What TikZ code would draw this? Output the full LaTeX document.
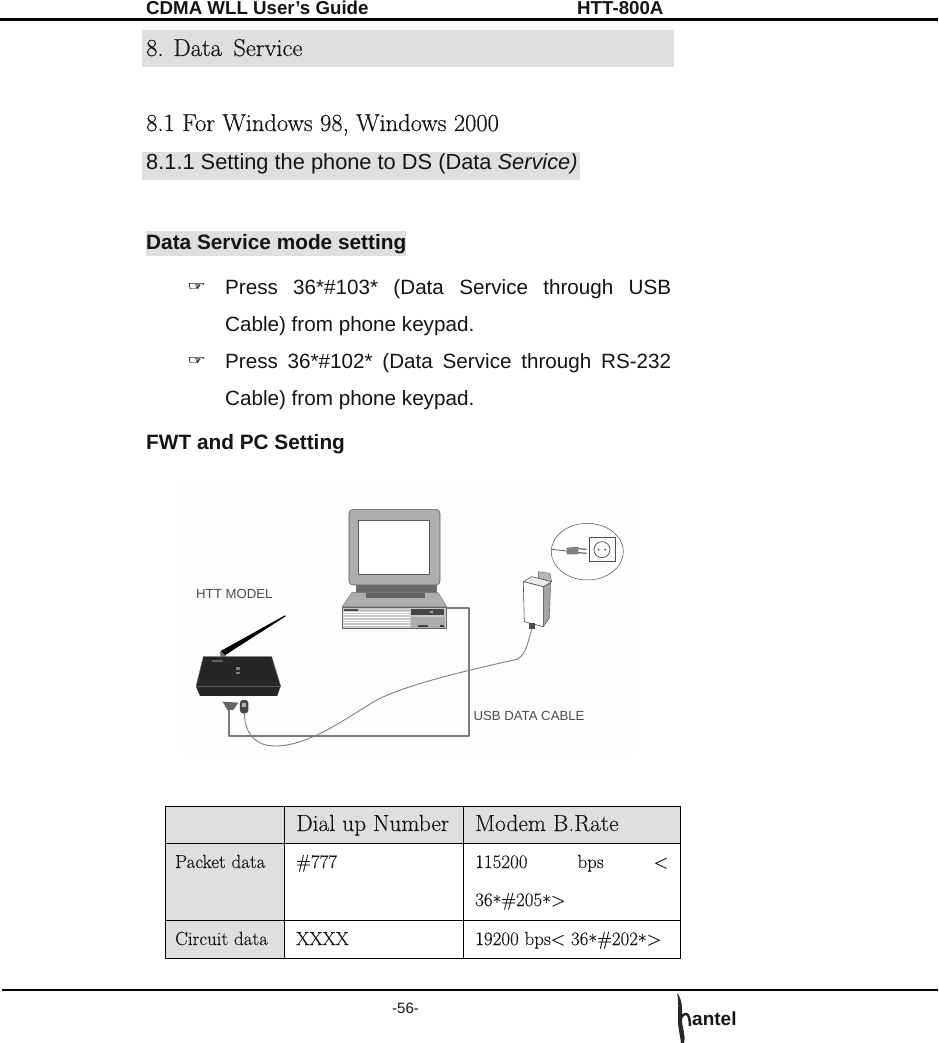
\documentclass[tikz,border=0pt]{standalone}
\usepackage{graphicx}
\usepackage{fontspec}
\newfontfamily\arialfont{Liberation Sans}
\newfontfamily\handfont[RawFeature={embolden=0.4}]{DejaVu Sans}
\newfontfamily\batang[RawFeature={embolden=0.45}]{Latin Modern Roman}
\newfontfamily\batanglt[RawFeature={embolden=0.15}]{Latin Modern Roman}
\definecolor{bandgray}{HTML}{DFDFDF}
\definecolor{casegray}{HTML}{AEAEAE}
\definecolor{cablegray}{HTML}{7A7A7A}
\newcommand{\fs}[1]{\fontsize{#1}{#1}\selectfont}
\newcommand{\handmark}{\scalebox{1.25}[0.72]{☞}}
\newcommand{\lowstar}{\raisebox{-3pt}{*}}
\tikzset{
	txt/.style={inner sep=0pt, anchor=base west, text=black!92},
	head/.style={txt, font=\arialfont\bfseries\fs{18.7}},
	body/.style={txt, font=\arialfont\fs{20.65}},
	bodyb/.style={txt, font=\arialfont\bfseries\fs{20.8}},
	title/.style={txt, font=\batang\fs{24.5}},
	cell/.style={txt, font=\batanglt\fs{19}},
	cellh/.style={txt, font=\batanglt\fs{23.4}},
	band/.style={fill=bandgray, draw=none},
	rule/.style={line width=1pt, black},
	photo/.style={text=black!70, inner sep=0pt, anchor=base west, font=\arialfont\fs{13.2}}
}
\begin{document}
\begin{tikzpicture}[x=1pt,y=-1pt, line join=round, line cap=butt]
	\useasboundingbox (0,0) rectangle (938,1043);
	\fill[white] (0,0) rectangle (938,1043);
	\draw[line width=3pt] (0,19.5)--(938,19.5);
	\draw[line width=2.5pt] (2,990)--(938,990);
	\node[head] (guide) at (146,15) {CDMA WLL User’s Guide};
	\node[head] (model) at (577,15) {HTT-800A};
	\node[txt, font=\arialfont\fs{15}] (page) at (392,1013) {-56-};
	% headings
	\fill[band] (142,30) rectangle (674,67);
	\fill[band] (142,152) rectangle (580,180);
	\fill[band] (146,231) rectangle (406,256);
	\node[title] (sec) at (146,56) {8. Data\, Service};
	\node[title] (sub) at (146,131) {8.1 For Windows 98, Windows 2000};
	\node[txt, font=\arialfont\fs{21.8}] (subsub) at (146,170) {8.1.1 Setting the phone to DS (Data \textit{Service)}};
	\node[bodyb] (mode) at (146,249) {Data Service mode setting};
	\node[txt, font=\handfont\fs{17}] (hand1) at (187,290) {\handmark};
	\node[body] (p1) at (225,294) {\makebox[446pt][s]{Press 36*\#103* (Data Service through USB}};
	\node[body] (p1b) at (225,331) {Cable) from phone keypad.};
	\node[txt, font=\handfont\fs{17}] (hand2) at (187,364) {\handmark};
	\node[body] (p2) at (225,368) {\makebox[446pt][s]{Press 36*\#102* (Data Service through RS-232}};
	\node[body] (p2b) at (225,405) {Cable) from phone keypad.};
	\node[bodyb] (fwt) at (146,449) {FWT and PC Setting};
	% photo, in units of a third of a pixel
	\begin{scope}[shift={(170,470)}, x=0.3333pt, y=-0.3333pt]
		\fill[black!0.7] (40,30) rectangle (1390,860);
		\path
			(830,413) coordinate (pcport)
			(897,413) coordinate (ca)
			(897,797) coordinate (cb)
			(178,797) coordinate (cc)
			(178,718) coordinate (dataplug)
			(223,730) coordinate (dcplug)
			(1085,478) coordinate (adapter)
			(1252,245) coordinate (lens)
			(1296,239) coordinate (socket)
			;
		\draw[cablegray, line width=2pt] (pcport)--(ca)--(cb)--(cc)--(dataplug);
		\draw[black!50, line width=0.9pt] (dcplug) .. controls (225,790) and (255,830) .. (320,828)
			.. controls (420,825) and (520,750) .. (620,690)
			.. controls (720,640) and (900,600) .. (1040,568)
			.. controls (1070,555) and (1075,510) .. (adapter);
		% monitor
		\fill[casegray, draw=black!65, rounded corners=4pt, line width=0.6pt] (537,118) rectangle (810,345);
		\fill[white, draw=black!65, line width=0.6pt] (565,150) rectangle (778,312);
		\fill[black!58] (557,345) rectangle (800,368);
		\fill[casegray, draw=black!55, line width=0.4pt] (545,368)--(805,368)--(830,410)--(517,410)--cycle;
		\fill[black!62] (587,368) rectangle (765,384);
		% computer case
		\fill[black!22, draw=black!60, line width=0.5pt] (517,411) rectangle (830,475);
		\foreach \y in {426,434,442,450,458,466}
			\draw[white, line width=0.8pt] (520,\y)--(720,\y);
		\fill[black!70] (523,416) rectangle (565,422);
		\fill[black!72] (723,418) rectangle (823,435);
		\fill[black!30] (780,424) rectangle (790,430);
		\fill[black!32] (723,440) rectangle (826,473);
		\fill[black!75] (745,465) rectangle (773,472);
		\fill[black!75] (810,465) rectangle (823,472);
		% router
		\fill[black!55] (150,545)--(166,547)--(168,562)--(152,562)--cycle;
		\fill[black] (152,543)--(345,436)--(347,439)--(166,555)--cycle;
		\fill[black!85] (100,560)--(305,560)--(332,648)--(322,678)--(90,678)--(78,650)--cycle;
		\draw[black!55, line width=0.5pt] (100,560)--(305,560)--(332,648) (100,560)--(78,650);
		\fill[black!62] (125,570) rectangle (158,575);
		\fill[black!50] (198,592) rectangle (210,599);
		\fill[black!50] (198,606) rectangle (210,613);
		\draw[black!65, line width=0.5pt] (78,650)--(332,650);
		\fill[black!60] (158,695)--(205,698)--(190,720)--(172,720)--cycle;
		\fill[black!72, rounded corners=3pt] (210,690) rectangle (235,730);
		\fill[black!30] (216,698) rectangle (229,712);
		% adapter
		\fill[black!28, draw=black!65, line width=0.4pt] (1105,305)--(1140,310)--(1145,335)--(1105,325)--cycle;
		\fill[black!8, draw=black!70, line width=0.5pt] (1060,335)--(1085,320)--(1145,335)--(1120,350)--cycle;
		\fill[black!35, draw=black!70, line width=0.4pt] (1120,350)--(1142,340)--(1138,445)--(1120,470)--cycle;
		\fill[white, draw=black!70, line width=0.6pt] (1060,335)--(1120,350)--(1120,470)--(1063,455)--cycle;
		\fill[black!70] (1078,460) rectangle (1095,476);
		% plug in the round inset
		\draw[black!70, line width=0.5pt] (lens) ellipse (108 and 85);
		\draw[black!65, line width=0.8pt] (1145,238)--(1190,243);
		\fill[black!50] (1190,233)--(1225,230)--(1225,253)--(1190,253)--cycle;
		\draw[black!75, line width=1pt] (1225,236)--(1250,238) (1225,248)--(1250,250);
		\draw[black!70, line width=0.6pt] (1258,203) rectangle (1335,275);
		\node[draw=black!70, line width=0.7pt, circle, minimum size=16pt, inner sep=0pt] (outlet) at (socket) {};
		\fill[black!75] (1286,239) circle (3) (1306,239) circle (3);
		\node[photo] (httmodel) at (78,386) {HTT MODEL};
		\node[photo] (usbcable) at (910,752) {USB DATA CABLE};
	\end{scope}
	% table
	\fill[band] (165,806) rectangle (680,843);
	\fill[band] (165,843) rectangle (284,958);
	\draw[rule] (165,806) rectangle (680,958);
	\draw[rule] (165,843)--(680,843) (165,920)--(680,920) (284,806)--(284,958) (463,806)--(463,958);
	\node[cellh] (dial) at (296,831) {Dial up Number};
	\node[cellh] (rate) at (475,831) {Modem B.Rate};
	\node[cell] (packet) at (175,868) {Packet data};
	\node[cell] (num) at (296,868) {\#777};
	\node[cell] (bps) at (475,868) {\makebox[193pt][s]{115200 bps <}};
	\node[cell] (bpsb) at (475,906) {36\lowstar\#205\lowstar>};
	\node[cell] (circuit) at (175,945) {Circuit data};
	\node[cell] (xxxx) at (296,945) {XXXX};
	\node[cell] (bpsc) at (475,945) {19200 bps< 36\lowstar\#202\lowstar>};
	% logo
	\fill[black!85] (677,993) .. controls (683,1000) and (682,1010) .. (682,1020)
		.. controls (682,1028) and (686,1035) .. (684,1043) -- (681,1043) .. controls (680,1035) and (678,1028) .. (678,1020)
		.. controls (678,1010) and (679,1002) .. (677,993)--cycle;
	\draw[black!85, line width=2.5pt] (680,1020) .. controls (684,1011) and (690,1011) .. (690,1026);
	\node[txt, font=\arialfont\bfseries\fs{19}] (hantel) at (692,1025) {antel};
\end{tikzpicture}
\end{document}
